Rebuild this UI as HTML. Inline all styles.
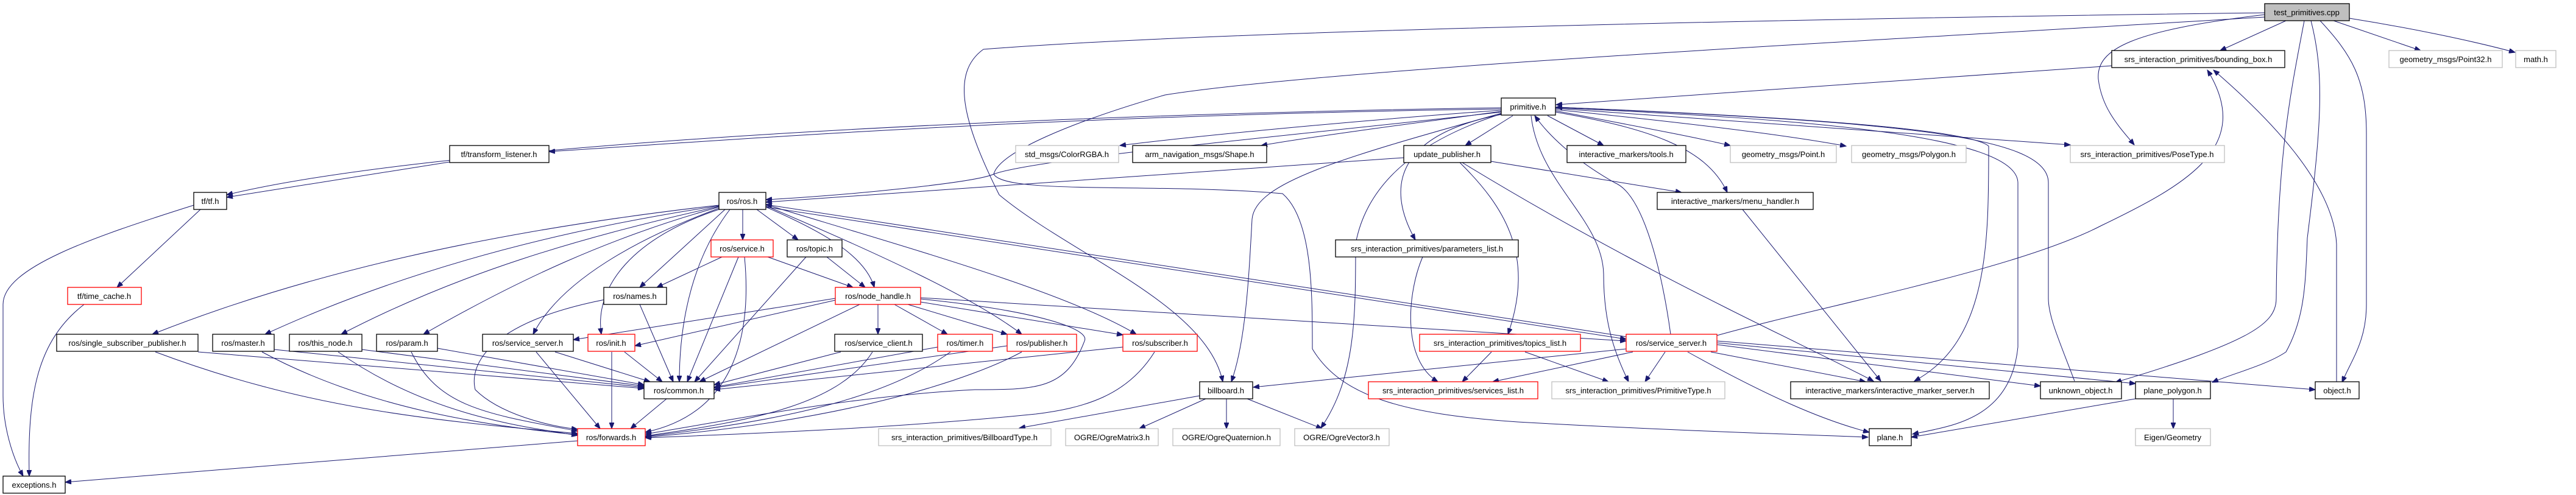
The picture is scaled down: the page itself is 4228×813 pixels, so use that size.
<!DOCTYPE html>
<html><head><meta charset="utf-8"><style>
html,body{margin:0;padding:0;background:#fff}
svg{display:block}
text{font-family:"Liberation Sans",sans-serif;font-size:13px;text-anchor:middle;fill:#000}
.n{fill:#fff;stroke:#000;stroke-width:1.3}
.g{fill:#fff;stroke:#bfbfbf;stroke-width:1.3}
.r{fill:#fff;stroke:#ff0000;stroke-width:1.3}
.e path{fill:none;stroke:#191970;stroke-width:1;marker-end:url(#a)}
</style></head><body>
<svg width="4228" height="813" viewBox="0 0 4228 813" xmlns="http://www.w3.org/2000/svg">
<defs><marker id="a" markerWidth="11" markerHeight="8" refX="10" refY="4" orient="auto" markerUnits="userSpaceOnUse"><path d="M0,0 L10,4 L0,8 z" fill="#191970" stroke="#191970"/></marker></defs>
<g class="e">
<!-- test_primitives -->
<path d="M3717,21 C3000,30 2000,50 1614,81 C1560,120 1580,200 1640,320 C1760,420 1980,500 2007,627"/>
<path d="M3717,28 C3200,60 2200,110 1912,156 C1760,200 1640,250 1631,286 C1650,320 1900,300 2105,318 C2154,360 2154,480 2154,573 C2200,650 2300,680 2491,693 C2700,705 2900,712 3066,718"/>
<path d="M3752,34 L3644,83"/>
<path d="M3717,24 C3500,50 3440,80 3444,130 C3450,180 3480,210 3503,238"/>
<path d="M3782,34 C3760,150 3738,250 3736,490 C3736,530 3700,560 3472,628"/>
<path d="M3793,34 C3815,120 3811,200 3787,391 C3784,460 3784,520 3752,578 C3720,600 3660,615 3631,628"/>
<path d="M3808,34 C3860,90 3884,130 3884,220 L3884,500 C3884,560 3860,590 3844,628"/>
<path d="M3830,34 L3973,83"/>
<path d="M3856,30 C3950,45 4050,65 4128,86"/>
<!-- bounding box / primitive -->
<path d="M3466,108 L2554,172"/>
<path d="M3835,627 L3835,401 C3830,300 3720,190 3633,115"/>
<path d="M2818,551 C3000,500 3310,443 3450,370 C3591,302 3700,240 3623,115"/>
<path d="M2742,549 C2730,460 2700,320 2650,300 C2580,260 2540,220 2519,190"/>
<path d="M2464,177 C1600,190 700,240 372,320"/>
<path d="M2464,179 C1700,190 1200,230 901,249"/>
<path d="M2464,181 C2200,200 1950,225 1838,239"/>
<path d="M2464,183 C2300,205 2150,225 2070,239"/>
<path d="M2464,184 C2150,220 1700,260 1631,286 C1600,300 1400,320 1257,328"/>
<path d="M2304,259 L1257,332"/>
<path d="M2464,186 C2200,260 2060,300 2055,360 C2050,450 2045,560 2021,627"/>
<path d="M2464,187 C2300,240 2240,320 2225,400 C2225,520 2225,620 2168,703"/>
<path d="M2483,190 L2405,239"/>
<path d="M2540,190 L2632,239"/>
<path d="M2553,182 C2700,210 2780,225 2840,239"/>
<path d="M2553,180 C2800,205 2950,225 3030,240"/>
<path d="M2553,178 C2900,200 3200,225 3398,238"/>
<path d="M2553,184 C2700,210 2800,240 2835,316"/>
<path d="M2464,188 C2300,220 2270,300 2323,394"/>
<path d="M2513,190 C2525,300 2630,360 2632,450 C2632,530 2650,580 2673,627"/>
<path d="M2553,176 C2900,190 3230,210 3264,240 C3264,400 3264,560 3142,626"/>
<path d="M2553,177 C2950,195 3310,220 3312,300 L3312,570 C3300,690 3200,700 3139,713"/>
<path d="M3405,626 C3380,560 3362,520 3362,490 L3362,300 C3362,220 3100,200 2554,176"/>
<!-- update publisher etc -->
<path d="M2447,265 L2760,316"/>
<path d="M2396,267 C2470,340 2520,420 2475,549"/>
<path d="M2400,267 C2700,450 2950,560 3075,626"/>
<path d="M2860,344 L3087,626"/>
<path d="M2335,422 C2310,480 2300,590 2360,627"/>
<path d="M2448,578 L2400,627"/>
<path d="M2503,578 L2640,627"/>
<path d="M2680,578 L2450,627"/>
<path d="M2733,578 L2700,627"/>
<path d="M2808,578 L3062,627"/>
<path d="M2669,573 L2057,636"/>
<path d="M2770,578 C2900,650 2990,690 3068,710"/>
<path d="M2818,566 L3349,634"/>
<path d="M2818,563 L3505,630"/>
<path d="M2818,560 L3800,640"/>
<path d="M2669,553 L1257,336"/>
<path d="M1257,340 L2669,557"/>
<path d="M1511,489 L2669,560"/>
<!-- billboard -->
<path d="M1969,650 L1673,703"/>
<path d="M1979,655 L1870,704"/>
<path d="M2013,655 L2013,704"/>
<path d="M2047,655 L2170,704"/>
<path d="M3505,655 L3137,718"/>
<path d="M3567,655 L3567,704"/>
<!-- ros.h -->
<path d="M1219,344 L1219,394"/>
<path d="M1242,344 L1310,394"/>
<path d="M1257,340 C1350,380 1420,420 1435,472"/>
<path d="M1190,344 L1050,472"/>
<path d="M1198,344 C1140,420 1115,520 1115,627"/>
<path d="M1257,338 C1450,420 1600,490 1677,549"/>
<path d="M1257,336 C1500,410 1750,480 1865,549"/>
<path d="M1180,337 C800,380 500,450 250,549"/>
<path d="M1180,338 C900,380 650,450 435,549"/>
<path d="M1180,339 C950,390 750,450 560,549"/>
<path d="M1180,340 C1000,390 850,460 695,549"/>
<path d="M1180,342 C1050,390 920,460 875,549"/>
<path d="M1180,344 C1040,390 975,470 987,549"/>
<path d="M1185,422 L1078,472"/>
<path d="M1260,422 L1400,472"/>
<path d="M1212,422 L1128,627"/>
<path d="M1222,422 C1235,560 1200,680 1059,710"/>
<path d="M1357,422 L1420,472"/>
<path d="M1323,422 L1140,627"/>
<path d="M1441,500 L1441,549"/>
<path d="M1468,500 L1555,549"/>
<path d="M1490,500 L1653,549"/>
<path d="M1511,496 L1843,550"/>
<path d="M1411,500 L1148,627"/>
<path d="M1371,493 L1042,568"/>
<path d="M1371,490 L941,558"/>
<path d="M1511,491 C1700,510 1790,540 1780,560 C1750,640 1700,640 1600,640 C1400,650 1200,690 1059,713"/>
<path d="M1050,500 L1105,627"/>
<path d="M993,492 C800,530 770,600 780,640 C820,680 900,700 948,705"/>
<path d="M325,578 L1057,638"/>
<path d="M255,578 C500,670 700,690 948,712"/>
<path d="M450,574 L1057,636"/>
<path d="M430,578 C600,670 800,700 948,714"/>
<path d="M594,574 L1057,634"/>
<path d="M555,578 C700,680 850,700 948,715"/>
<path d="M718,572 L1057,632"/>
<path d="M675,578 C720,670 800,680 948,708"/>
<path d="M911,578 L1067,627"/>
<path d="M880,578 L985,704"/>
<path d="M1025,578 L1087,627"/>
<path d="M1004,578 L1004,704"/>
<path d="M1094,655 L1035,704"/>
<path d="M1380,578 L1172,632"/>
<path d="M1432,578 C1380,660 1250,690 1059,716"/>
<path d="M1539,570 L1172,636"/>
<path d="M1560,578 C1460,650 1300,690 1059,717"/>
<path d="M1653,568 L1172,637"/>
<path d="M1677,578 C1600,620 1400,690 1059,718"/>
<path d="M1843,570 L1172,640"/>
<path d="M1895,578 C1850,650 1780,670 1700,680 C1500,700 1300,710 1059,719"/>
<path d="M948,724 L107,792"/>
<path d="M318,337 C150,390 5,440 5,500 L5,650 C5,700 20,750 38,782"/>
<path d="M329,344 L192,472"/>
<path d="M138,500 C60,560 45,650 48,782"/>
<path d="M738,266 L372,324"/>
</g>
<g>
<rect class="n" x="3717" y="6" width="139" height="28" style="fill:#bfbfbf"/><text x="3786" y="25">test_primitives.cpp</text>
<rect class="n" x="3466" y="83" width="284" height="28"/><text x="3608" y="102">srs_interaction_primitives/bounding_box.h</text>
<rect class="g" x="3921" y="83" width="186" height="28"/><text x="4014" y="102">geometry_msgs/Point32.h</text>
<rect class="g" x="4129" y="83" width="66" height="28"/><text x="4162" y="102">math.h</text>
<rect class="n" x="2464" y="161" width="89" height="28"/><text x="2508" y="180">primitive.h</text>
<rect class="n" x="738" y="239" width="163" height="28"/><text x="819" y="258">tf/transform_listener.h</text>
<rect class="g" x="1667" y="239" width="169" height="28"/><text x="1751" y="258">std_msgs/ColorRGBA.h</text>
<rect class="n" x="1859" y="239" width="220" height="28"/><text x="1969" y="258">arm_navigation_msgs/Shape.h</text>
<rect class="n" x="2304" y="239" width="143" height="28"/><text x="2375" y="258">update_publisher.h</text>
<rect class="n" x="2572" y="239" width="195" height="28"/><text x="2669" y="258">interactive_markers/tools.h</text>
<rect class="g" x="2840" y="239" width="174" height="28"/><text x="2927" y="258">geometry_msgs/Point.h</text>
<rect class="g" x="3039" y="239" width="188" height="28"/><text x="3133" y="258">geometry_msgs/Polygon.h</text>
<rect class="g" x="3398" y="239" width="253" height="28"/><text x="3524" y="258">srs_interaction_primitives/PoseType.h</text>
<rect class="n" x="318" y="316" width="54" height="28"/><text x="345" y="335">tf/tf.h</text>
<rect class="n" x="1180" y="316" width="77" height="28"/><text x="1218" y="335">ros/ros.h</text>
<rect class="n" x="2720" y="316" width="256" height="28"/><text x="2848" y="335">interactive_markers/menu_handler.h</text>
<rect class="r" x="1167" y="394" width="102" height="28"/><text x="1218" y="413">ros/service.h</text>
<rect class="n" x="1292" y="394" width="90" height="28"/><text x="1337" y="413">ros/topic.h</text>
<rect class="n" x="2192" y="394" width="300" height="28"/><text x="2342" y="413">srs_interaction_primitives/parameters_list.h</text>
<rect class="r" x="111" y="472" width="121" height="28"/><text x="171" y="491">tf/time_cache.h</text>
<rect class="n" x="991" y="472" width="103" height="28"/><text x="1042" y="491">ros/names.h</text>
<rect class="r" x="1371" y="472" width="140" height="28"/><text x="1441" y="491">ros/node_handle.h</text>
<rect class="n" x="93" y="549" width="232" height="28"/><text x="209" y="568">ros/single_subscriber_publisher.h</text>
<rect class="n" x="349" y="549" width="101" height="28"/><text x="399" y="568">ros/master.h</text>
<rect class="n" x="475" y="549" width="119" height="28"/><text x="534" y="568">ros/this_node.h</text>
<rect class="n" x="618" y="549" width="100" height="28"/><text x="668" y="568">ros/param.h</text>
<rect class="n" x="792" y="549" width="149" height="28"/><text x="866" y="568">ros/service_server.h</text>
<rect class="r" x="965" y="549" width="77" height="28"/><text x="1003" y="568">ros/init.h</text>
<rect class="n" x="1370" y="549" width="144" height="28"/><text x="1442" y="568">ros/service_client.h</text>
<rect class="r" x="1539" y="549" width="90" height="28"/><text x="1584" y="568">ros/timer.h</text>
<rect class="r" x="1653" y="549" width="114" height="28"/><text x="1710" y="568">ros/publisher.h</text>
<rect class="r" x="1843" y="549" width="122" height="28"/><text x="1904" y="568">ros/subscriber.h</text>
<rect class="r" x="2330" y="549" width="264" height="28"/><text x="2462" y="568">srs_interaction_primitives/topics_list.h</text>
<rect class="r" x="2669" y="549" width="149" height="28"/><text x="2743" y="568">ros/service_server.h</text>
<rect class="n" x="1057" y="627" width="115" height="28"/><text x="1114" y="646">ros/common.h</text>
<rect class="n" x="1969" y="627" width="87" height="28"/><text x="2012" y="646">billboard.h</text>
<rect class="r" x="2246" y="627" width="278" height="28"/><text x="2385" y="646">srs_interaction_primitives/services_list.h</text>
<rect class="g" x="2547" y="627" width="284" height="28"/><text x="2689" y="646">srs_interaction_primitives/PrimitiveType.h</text>
<rect class="n" x="2939" y="627" width="326" height="28"/><text x="3102" y="646">interactive_markers/interactive_marker_server.h</text>
<rect class="n" x="3349" y="627" width="133" height="28"/><text x="3415" y="646">unknown_object.h</text>
<rect class="n" x="3505" y="627" width="123" height="28"/><text x="3566" y="646">plane_polygon.h</text>
<rect class="n" x="3800" y="627" width="72" height="28"/><text x="3836" y="646">object.h</text>
<rect class="r" x="948" y="704" width="111" height="28"/><text x="1003" y="723">ros/forwards.h</text>
<rect class="g" x="1442" y="704" width="283" height="28"/><text x="1583" y="723">srs_interaction_primitives/BillboardType.h</text>
<rect class="g" x="1749" y="704" width="152" height="28"/><text x="1825" y="723">OGRE/OgreMatrix3.h</text>
<rect class="g" x="1925" y="704" width="176" height="28"/><text x="2013" y="723">OGRE/OgreQuaternion.h</text>
<rect class="g" x="2125" y="704" width="155" height="28"/><text x="2202" y="723">OGRE/OgreVector3.h</text>
<rect class="n" x="3068" y="704" width="69" height="28"/><text x="3102" y="723">plane.h</text>
<rect class="g" x="3505" y="704" width="123" height="28"/><text x="3566" y="723">Eigen/Geometry</text>
<rect class="n" x="5" y="782" width="102" height="28"/><text x="56" y="801">exceptions.h</text>
</g>
</svg>
</body></html>
